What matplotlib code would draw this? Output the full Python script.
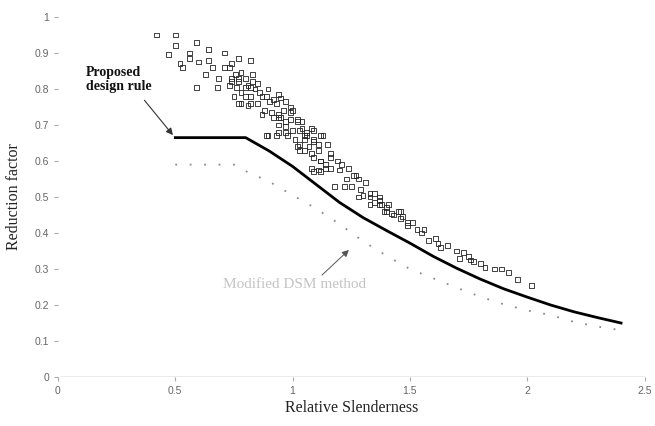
import matplotlib
matplotlib.use("Agg")
import matplotlib.pyplot as plt

# ---- data ----
x_ticks = [0, 0.5, 1, 1.5, 2, 2.5]
x_tick_labels = ["0", "0.5", "1", "1.5", "2", "2.5"]
y_ticks = [0, 0.1, 0.2, 0.3, 0.4, 0.5, 0.6, 0.7, 0.8, 0.9, 1.0]
y_tick_labels = ["0", "0.1", "0.2", "0.3", "0.4", "0.5", "0.6", "0.7", "0.8", "0.9", "1"]

rule_x = [0.5, 0.8, 0.9, 1.0, 1.1, 1.2, 1.3, 1.4, 1.5, 1.6, 1.7, 1.8, 1.9, 2.0, 2.1, 2.2, 2.3, 2.4]
rule_y = [0.665, 0.665, 0.628, 0.585, 0.535, 0.485, 0.443, 0.407, 0.372, 0.335, 0.302, 0.272,
          0.245, 0.222, 0.200, 0.181, 0.165, 0.150]

dsm_x = [0.5, 0.75, 0.8, 0.9, 1.0, 1.1, 1.2, 1.3, 1.4, 1.5, 1.6, 1.7, 1.8, 1.9, 2.0, 2.1, 2.2, 2.3, 2.4]
dsm_y = [0.59, 0.59, 0.572, 0.543, 0.505, 0.468, 0.425, 0.377, 0.337, 0.300, 0.274, 0.248,
         0.223, 0.202, 0.185, 0.172, 0.153, 0.140, 0.130]

test_x = [0.42, 0.50, 0.50, 0.47, 0.52, 0.56, 0.59, 0.56, 0.53, 0.60, 0.64, 0.64, 0.66, 0.71, 0.71,
          0.73, 0.77, 0.82, 0.63, 0.685, 0.74, 0.77, 0.78, 0.80, 0.59, 0.68, 0.73, 0.76, 0.80, 0.82,
          0.75, 0.80, 0.82, 0.77, 0.81, 0.74, 0.755, 0.83, 0.74, 0.77, 0.83, 0.85, 0.81, 0.895, 0.86,
          0.84, 0.94, 0.95, 0.78, 0.89, 0.90, 0.93, 0.97, 0.99, 0.78, 0.82, 0.85, 0.88, 0.91, 0.94,
          0.96, 0.99, 0.87, 0.92, 0.95, 0.99, 1.02, 1.04, 0.94, 0.97, 1.00, 1.03, 1.06, 1.09, 1.13,
          0.895, 0.93, 0.98, 1.01, 1.05, 1.09, 1.11, 1.15, 1.03, 1.07, 1.04, 1.08, 1.05, 1.12, 1.03,
          1.08, 1.16, 1.16, 1.19, 1.21, 1.14, 1.16, 1.20, 1.24, 1.09, 1.12, 1.26, 1.23, 1.28, 1.31,
          1.18, 1.22, 1.25, 1.29, 1.33, 1.30, 1.33, 1.37, 1.35, 1.38, 1.40, 1.37, 1.41, 1.39, 1.42,
          1.46, 1.46, 1.49, 1.51, 1.49, 1.53, 1.56, 1.55, 1.58, 1.61, 1.62, 1.66, 1.63, 1.70, 1.73,
          1.71, 1.75, 1.77, 1.76, 1.80, 1.82, 1.86, 1.89, 1.92, 1.96, 2.02, 1.45, 1.43, 1.47, 1.12,
          1.11, 1.08, 1.14, 1.02, 0.97, 0.94, 0.89, 0.94, 0.97, 1.06, 1.09, 1.02, 1.05, 1.11, 1.09,
          1.12, 1.27, 1.35, 1.28, 1.33, 1.37, 1.40, 1.00, 0.92, 0.87]
test_y = [0.95, 0.95, 0.92, 0.895, 0.87, 0.90, 0.93, 0.885, 0.86, 0.875, 0.91, 0.88, 0.86, 0.90, 0.86,
          0.86, 0.885, 0.88, 0.84, 0.83, 0.83, 0.83, 0.845, 0.83, 0.805, 0.805, 0.81, 0.805, 0.805, 0.805,
          0.78, 0.78, 0.78, 0.76, 0.755, 0.87, 0.84, 0.84, 0.82, 0.82, 0.82, 0.815, 0.81, 0.80, 0.79,
          0.80, 0.785, 0.775, 0.79, 0.78, 0.765, 0.76, 0.765, 0.75, 0.76, 0.76, 0.76, 0.74, 0.735, 0.73,
          0.74, 0.735, 0.73, 0.72, 0.72, 0.715, 0.715, 0.71, 0.70, 0.695, 0.685, 0.685, 0.68, 0.685, 0.67,
          0.67, 0.67, 0.67, 0.66, 0.66, 0.655, 0.645, 0.645, 0.645, 0.64, 0.69, 0.69, 0.67, 0.67, 0.63,
          0.62, 0.62, 0.61, 0.60, 0.59, 0.59, 0.58, 0.575, 0.58, 0.57, 0.57, 0.56, 0.55, 0.55, 0.54,
          0.53, 0.53, 0.53, 0.52, 0.51, 0.505, 0.50, 0.50, 0.485, 0.48, 0.47, 0.49, 0.48, 0.46, 0.455,
          0.46, 0.44, 0.43, 0.43, 0.42, 0.41, 0.41, 0.40, 0.38, 0.385, 0.37, 0.365, 0.36, 0.35, 0.345,
          0.33, 0.335, 0.32, 0.325, 0.315, 0.305, 0.30, 0.30, 0.29, 0.27, 0.255, 0.46, 0.45, 0.445, 0.60,
          0.575, 0.58, 0.58, 0.71, 0.71, 0.72, 0.67, 0.68, 0.68, 0.67, 0.66, 0.64, 0.63, 0.63, 0.61,
          0.60, 0.56, 0.51, 0.50, 0.48, 0.48, 0.46, 0.74, 0.77, 0.78]

label_rule = "Proposed\ndesign rule"
label_dsm = "Modified DSM method"
x_label = "Relative Slenderness"
y_label = "Reduction factor"

# ---- figure ----
fig = plt.figure(figsize=(6.55, 4.26), dpi=100)
ax = fig.add_axes([0.0885, 0.115, 0.8955, 0.845])
ax.set_xlim(0, 2.5)
ax.set_ylim(0, 1.0)

for s in ["top", "right", "left", "bottom"]:
    ax.spines[s].set_visible(False)

ax.axhline(0, xmin=0.005, xmax=1.0, color="#9a9a9a", lw=1.0, zorder=1)

ax.scatter(test_x, test_y, marker="s", s=12, facecolors="none", edgecolors="#222222",
           linewidths=0.6, zorder=3)
ax.plot(rule_x, rule_y, color="black", lw=2.0, zorder=4)
ax.plot(dsm_x, dsm_y, color="#8a8a8a", lw=1.3, linestyle=(0, (1, 7)), zorder=2)

ax.set_xticks(x_ticks)
ax.set_xticklabels(x_tick_labels)
ax.set_yticks(y_ticks)
ax.set_yticklabels(y_tick_labels)
ax.tick_params(axis="both", colors="#aaaaaa", labelcolor="#666666", labelsize=7.5,
               length=3, width=0.8)
for lab in ax.get_xticklabels() + ax.get_yticklabels():
    lab.set_family("Liberation Sans")

ax.set_xlabel(x_label, family="Liberation Serif", fontsize=11.5, color="#222222", labelpad=3)
ax.set_ylabel(y_label, family="Liberation Serif", fontsize=11.5, color="#222222", labelpad=9)

ax.annotate(label_rule, xy=(0.49, 0.672), xytext=(0.12, 0.826),
            fontsize=10, fontweight="bold", family="Liberation Serif", color="#111111",
            ha="left", va="center", linespacing=1.1,
            arrowprops=dict(arrowstyle="-|>", color="#333333", lw=0.8, mutation_scale=10,
                            shrinkA=4, shrinkB=0, relpos=(0.8, 0.0)))

ax.text(1.01, 0.256, label_dsm, family="Liberation Serif", fontsize=11, color="#c4c4c4",
        ha="center", va="center")
ax.annotate("", xy=(1.24, 0.353), xytext=(1.125, 0.283),
            arrowprops=dict(arrowstyle="-|>", color="#555555", lw=0.7, mutation_scale=10,
                            shrinkA=0, shrinkB=0))

fig.savefig("out.png", dpi=100)
